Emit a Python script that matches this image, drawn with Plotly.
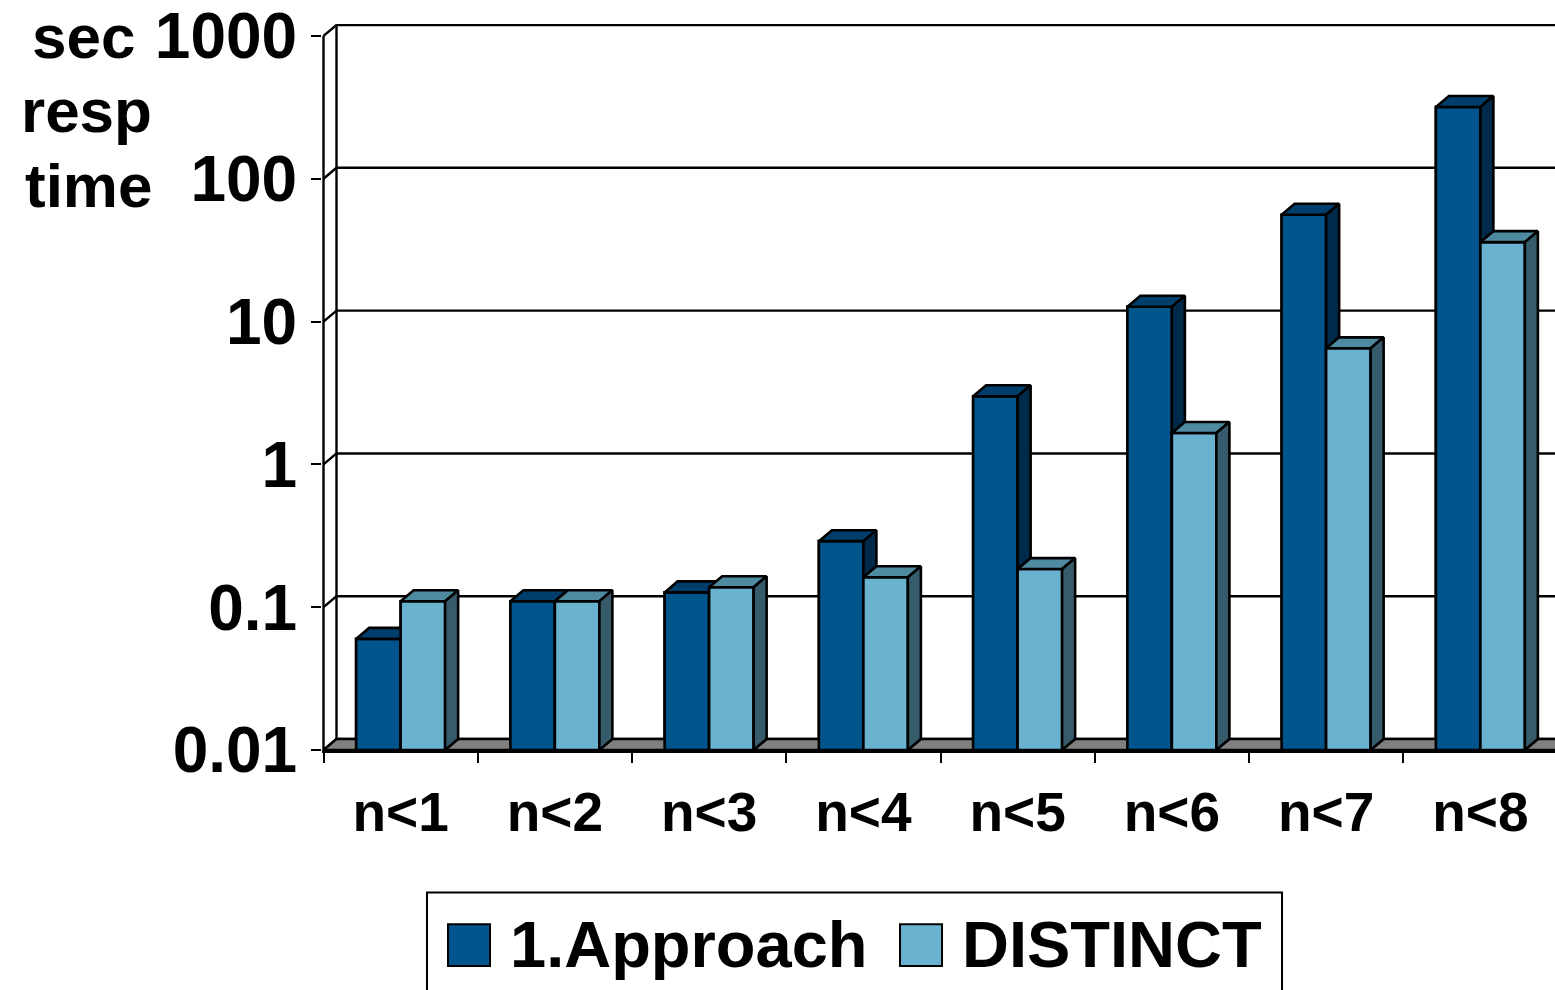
import plotly.graph_objects as go

# ---------------- data ----------------
categories = ["n<1", "n<2", "n<3", "n<4", "n<5", "n<6", "n<7", "n<8"]
approach = [0.060, 0.11, 0.127, 0.29, 3.0, 12.7, 56.0, 318.0]
distinct = [0.110, 0.11, 0.138, 0.162, 0.185, 1.66, 6.5, 36.0]
series_names = ["1.Approach", "DISTINCT"]
y_tick_vals = [0.01, 0.1, 1, 10, 100, 1000]
y_tick_text = ["0.01", "0.1", "1", "10", "100", "1000"]
title_lines = ["sec", "resp", "time"]

# ---------------- styles / geometry ----------------
FIG_W, FIG_H = 1555, 990
L, T, B = 322, 21, 240
PW = FIG_W - L
PH = FIG_H - T - B
PX_CAT = 154.25            # pixels per category
PX_DEC = 143.4             # pixels per decade
X0 = -0.5 - 1.5 / PX_CAT
X1 = X0 + PW / PX_CAT
Y0 = -2
Y1 = Y0 + PH / PX_DEC
DX = 13 / PX_CAT           # depth offset (categories)
DY = 11 / PX_DEC           # depth offset (decades)
F = 10 ** DY
W = 44.5 / PX_CAT          # bar width
BASE = 10 ** Y0
BAR_LW = 2.6
GRID_LW = 2.4

FONT = "Liberation Sans, Arial, sans-serif"
colors = {
    "1.Approach": dict(front="#00558C", top="#003F6B", side="#002A4A"),
    "DISTINCT": dict(front="#69B3D0", top="#4F8BA0", side="#365B6B"),
}
offsets = {"1.Approach": -W, "DISTINCT": 0.0}

fig = go.Figure()

# base bars (front faces)
for name, vals in zip(series_names, [approach, distinct]):
    fig.add_trace(go.Bar(
        x=list(range(len(categories))), y=vals, name=name,
        width=W, offset=offsets[name],
        marker=dict(color=colors[name]["front"], line=dict(color="black", width=BAR_LW)),
        showlegend=False, hoverinfo="skip",
    ))

# back wall gridlines with diagonal connectors
gx, gy = [], []
for v in y_tick_vals:
    gx += [-0.5, -0.5 + DX, X1 + 1, None]
    gy += [v, v * F, v * F, None]
gx += [-0.5 + DX, -0.5 + DX, None, -0.5, -0.5]
gy += [BASE * F, y_tick_vals[-1] * F, None, BASE, y_tick_vals[-1]]
fig.add_trace(go.Scatter(x=gx, y=gy, mode="lines", line=dict(color="black", width=GRID_LW),
                         showlegend=False, hoverinfo="skip"))

# floor
fig.add_trace(go.Scatter(
    x=[-0.5, X1 + 1, X1 + 1, -0.5 + DX, -0.5],
    y=[BASE, BASE, BASE * F, BASE * F, BASE],
    mode="lines", fill="toself", fillcolor="#808080",
    line=dict(color="black", width=GRID_LW), showlegend=False, hoverinfo="skip"))

# 3D faces per series
for name, vals in zip(series_names, [approach, distinct]):
    fx, fy, tx, ty, sx, sy = [], [], [], [], [], []
    for i, v in enumerate(vals):
        a = i + offsets[name]
        b = a + W
        fx += [a, a, b, b, a, None]
        fy += [BASE, v, v, BASE, BASE, None]
        tx += [a, a + DX, b + DX, b, a, None]
        ty += [v, v * F, v * F, v, v, None]
        sx += [b, b, b + DX, b + DX, b, None]
        sy += [BASE, v, v * F, BASE * F, BASE, None]
    for xs, ys, key in [(fx, fy, "front"), (tx, ty, "top"), (sx, sy, "side")]:
        fig.add_trace(go.Scatter(
            x=xs, y=ys, mode="lines", fill="toself",
            fillcolor=colors[name][key], line=dict(color="black", width=BAR_LW),
            showlegend=False, hoverinfo="skip"))


def px_x(p):
    return (p - L) / PW


def px_y(p):
    return (FIG_H - B - p) / PH


# axis title lines
for txt, cx, cy in zip(title_lines, [83, 86, 88], [34, 108, 183]):
    fig.add_annotation(text=txt, xref="paper", yref="paper", x=px_x(cx), y=px_y(cy),
                       xanchor="center", yanchor="middle", showarrow=False,
                       font=dict(family=FONT, size=62, color="black", weight="bold"))

# manual legend
fig.add_shape(type="rect", xref="paper", yref="paper",
              x0=px_x(427), x1=px_x(1282), y0=px_y(893), y1=px_y(1010),
              line=dict(color="black", width=2), fillcolor="white")
for name, sq_x, tx_x in zip(series_names, [448, 900], [508, 960]):
    fig.add_shape(type="rect", xref="paper", yref="paper",
                  x0=px_x(sq_x), x1=px_x(sq_x + 42), y0=px_y(925), y1=px_y(967),
                  line=dict(color="black", width=2), fillcolor=colors[name]["front"])
    fig.add_annotation(text=name, xref="paper", yref="paper", x=px_x(tx_x), y=px_y(945),
                       xanchor="left", yanchor="middle", showarrow=False,
                       font=dict(family=FONT, size=65, color="black", weight="bold"))

fig.update_layout(
    width=FIG_W, height=FIG_H,
    margin=dict(l=L, r=0, t=T, b=B, pad=0),
    paper_bgcolor="white", plot_bgcolor="white",
    showlegend=False, barmode="overlay",
    xaxis=dict(
        range=[X0, X1], tickmode="array",
        tickvals=list(range(len(categories))), ticktext=categories,
        ticks="", showgrid=False, zeroline=False,
        showline=True, linecolor="black", linewidth=3,
        tickfont=dict(family=FONT, size=55, color="black", weight="bold"),
        ticklabelstandoff=12,
        minor=dict(tickmode="array", tickvals=[k - 0.5 for k in range(len(categories) + 1)],
                   ticks="outside", ticklen=10, tickwidth=2, tickcolor="black", showgrid=False),
    ),
    yaxis=dict(
        type="log", range=[Y0, Y1], tickmode="array",
        tickvals=y_tick_vals, ticktext=y_tick_text,
        ticks="outside", ticklen=10, tickwidth=2, tickcolor="black",
        showgrid=False, zeroline=False, showline=False,
        tickfont=dict(family=FONT, size=64, color="black", weight="bold"),
        ticklabelstandoff=1, ticklabeloverflow="allow",
    ),
)

fig.write_html("out.html")
